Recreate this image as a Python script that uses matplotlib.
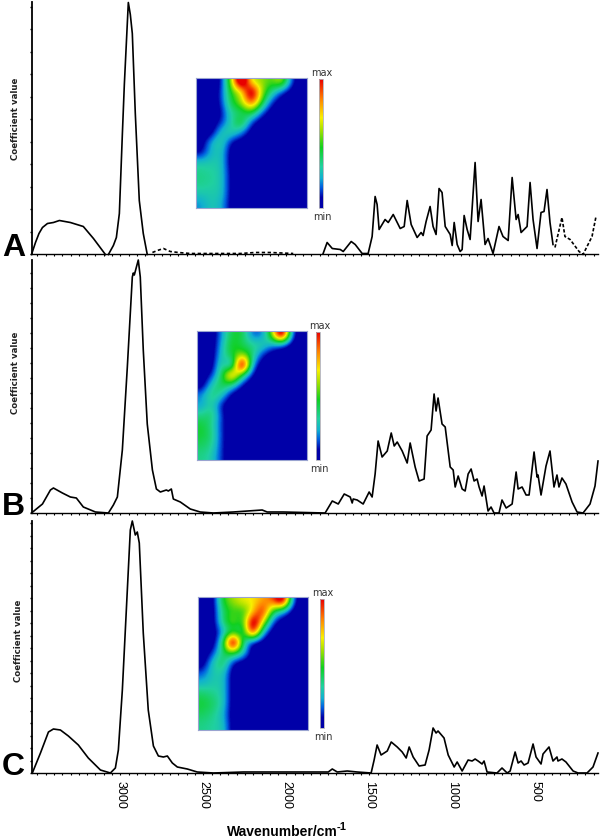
import numpy as np
import matplotlib
matplotlib.use("Agg")
import matplotlib.pyplot as plt
from matplotlib.colors import LinearSegmentedColormap
from matplotlib.ticker import MultipleLocator, NullLocator

W, H = 600, 838

# Panel A, the curve comes in solid and dashed pieces
a_w1 = [3535, 3511, 3490, 3469, 3439, 3403, 3367, 3301, 3223, 3162, 3126, 3090]
a_h1 = [0, 12, 21, 27, 31, 32, 34, 32, 28, 16, 8, 0]
a_w2 = [3072, 3042, 3024, 3006, 2988, 2976, 2964, 2952, 2940, 2928, 2910, 2886, 2862, 2838]
a_h2 = [0, 9, 17, 41, 120, 170, 211, 252, 240, 221, 141, 54, 21, 0]
a_w3 = [2807, 2777, 2741, 2699, 2651, 2579, 2489, 2278, 2188, 2097, 1959]
a_h3 = [2, 4, 6, 3, 2, 1, 1, 1, 2, 2, 1]
a_w4 = [1779, 1755, 1724, 1676, 1658, 1610, 1586, 1544, 1508, 1484, 1466, 1454, 1442, 1406, 1387,
        1357, 1315, 1291, 1273, 1249, 1213, 1189, 1177, 1159, 1135, 1117, 1099, 1081, 1063, 1044,
        1014, 1002, 990, 972, 954, 942, 930, 912, 894, 864, 846, 828, 804, 786, 756, 720, 696, 665,
        641, 617, 605, 587, 551, 533, 515, 491, 467, 449, 431, 413, 395]
a_h4 = [1, 12, 6, 5, 3, 13, 10, 1, 1, 18, 58, 50, 25, 35, 32,
        40, 26, 28, 54, 30, 17, 22, 19, 33, 48, 28, 20, 66, 62, 28,
        20, 9, 32, 10, 3, 5, 39, 25, 15, 92, 33, 55, 10, 16, 1, 28, 18, 14,
        77, 35, 40, 22, 28, 72, 35, 6, 42, 43, 65, 32, 10]
a_w5 = [383, 341, 323, 292, 238, 214, 160, 136]
a_h5 = [7, 37, 18, 15, 3, 0, 18, 38]

# Panel B
b_w = [3535, 3469, 3421, 3403, 3349, 3301, 3265, 3223, 3150, 3072, 3042, 3018, 2988, 2958, 2928,
       2922, 2916, 2892, 2880, 2862, 2838, 2807, 2783, 2759, 2723, 2711, 2693, 2681, 2639, 2579,
       2519, 2440, 2320, 2146, 2116, 2019, 1767, 1724, 1688, 1652, 1616, 1604, 1598, 1574, 1538,
       1502, 1484, 1466, 1448, 1424, 1393, 1369, 1351, 1333, 1303, 1273, 1255, 1225, 1201, 1171,
       1153, 1129, 1111, 1099, 1087, 1063, 1044, 1014, 996, 984, 966, 942, 924, 906, 888, 870, 852,
       840, 822, 810, 786, 768, 750, 720, 702, 677, 641, 617, 605, 581, 557, 539, 509, 491, 485,
       467, 437, 413, 389, 371, 359, 341, 317, 280, 250, 214, 172, 142, 124]
b_h = [0, 9, 23, 25, 20, 16, 15, 6, 1, 0, 8, 16, 63, 146, 236,
       240, 238, 253, 236, 163, 89, 43, 24, 21, 23, 22, 24, 14, 11, 4,
       1, 0, 1, 3, 1, 1, 0, 12, 9, 19, 16, 10, 14, 13, 9,
       21, 16, 39, 72, 56, 62, 80, 67, 71, 62, 50, 70, 46, 32, 34,
       77, 83, 119, 102, 115, 89, 86, 46, 43, 26, 37, 24, 22, 39, 44, 32, 34,
       26, 17, 27, 2, 6, 0, 0, 13, 5, 9, 41, 24, 26, 18, 18, 61, 36, 38,
       18, 47, 62, 26, 38, 26, 35, 29, 11, 1, 0, 9, 27, 52]

# Panel C
c_w = [3530, 3481, 3433, 3403, 3361, 3313, 3253, 3193, 3120, 3060, 3030, 3012, 2988, 2958, 2940,
       2928, 2910, 2898, 2886, 2862, 2832, 2801, 2771, 2741, 2717, 2687, 2657, 2597, 2537, 2440,
       2260, 2037, 1748, 1724, 1694, 1634, 1574, 1490, 1472, 1454, 1430, 1393, 1369, 1333, 1303,
       1279, 1261, 1237, 1201, 1165, 1141, 1117, 1099, 1087, 1051, 1026, 990, 972, 942, 906, 882,
       864, 846, 822, 810, 792, 732, 702, 671, 653, 623, 605, 587, 569, 545, 515, 497, 467, 455,
       419, 395, 371, 365, 341, 317, 274, 244, 190, 154, 124]
c_h = [0, 20, 41, 44, 43, 37, 28, 15, 3, 0, 5, 23, 83, 183, 243,
       252, 238, 241, 230, 140, 63, 27, 17, 16, 17, 10, 6, 4, 1, 0,
       1, 1, 1, 4, 1, 2, 1, 0, 13, 28, 18, 22, 31, 26, 21,
       15, 26, 16, 7, 8, 23, 45, 40, 42, 35, 18, 6, 11, 2, 13, 12,
       14, 12, 9, 12, 1, 0, 5, 0, 2, 21, 10, 12, 8, 10, 29, 16, 9, 19,
       26, 12, 16, 12, 14, 11, 2, 0, 0, 6, 20]

# Inset maps, coarse readings on a 0-10 scale, hot spots read a bit high
map_a = [
    [0, 0, 0.5, 6, 14, 6, 6, 5, 7, 1, 0],
    [0, 0, 1, 5, 6, 13, 6, 3.5, 1, 0, 0],
    [0, 0, 1, 4.5, 6, 10, 5, 1, 0, 0, 0],
    [0, 0, 0.5, 3.5, 3.5, 5, 1.5, 0, 0, 0, 0],
    [0, 0, 1, 3, 5.5, 1, 0, 0, 0, 0, 0],
    [0, 0, 3, 3.5, 2, 0, 0, 0, 0, 0, 0],
    [0, 2.5, 3.5, 0.5, 0, 0, 0, 0, 0, 0, 0],
    [0.5, 2.5, 3, 0, 0, 0, 0, 0, 0, 0, 0],
    [3, 3, 3, 0, 0, 0, 0, 0, 0, 0, 0],
    [3.5, 3.3, 3, 0.3, 0, 0, 0, 0, 0, 0, 0],
    [3.5, 3.3, 3, 0.3, 0, 0, 0, 0, 0, 0, 0],
    [3, 3, 3, 0.3, 0, 0, 0, 0, 0, 0, 0],
    [2, 3, 2.5, 0.3, 0, 0, 0, 0, 0, 0, 0],
]
map_b = [
    [0, 0, 2, 4.5, 4.5, 1.5, 1.5, 5.5, 14, 1, 0],
    [0, 0, 2.5, 5, 4, 3.5, 3.5, 2, 1, 0, 0],
    [0, 0, 3, 4.5, 6, 4, 1, 0, 0, 0, 0],
    [0, 0, 4, 0.5, 15, 2, 0, 0, 0, 0, 0],
    [0, 1, 4, 10, 4, 0.5, 0, 0, 0, 0, 0],
    [0, 3, 4.5, 3.5, 0.5, 0, 0, 0, 0, 0, 0],
    [2, 4, 3, 0, 0, 0, 0, 0, 0, 0, 0],
    [2, 3.5, 0.5, 0, 0, 0, 0, 0, 0, 0, 0],
    [3.5, 4, 1, 0, 0, 0, 0, 0, 0, 0, 0],
    [4.5, 3.5, 1, 0, 0, 0, 0, 0, 0, 0, 0],
    [4.5, 3.8, 1, 0, 0, 0, 0, 0, 0, 0, 0],
    [4, 3.5, 1, 0, 0, 0, 0, 0, 0, 0, 0],
    [3.5, 3, 1, 0, 0, 0, 0, 0, 0, 0, 0],
]
map_c = [
    [0, 0, 5, 6, 7, 7, 8, 9, 13, 1, 0],
    [0, 0, 4, 5, 4.5, 7, 11, 4, 2, 0, 0],
    [0, 0, 4, 6, 4, 13, 7, 1, 0, 0, 0],
    [0, 0, 2, 4, 3, 12, 2, 0, 0, 0, 0],
    [0, 0, 3.5, 15, 3.5, 0, 0, 0, 0, 0, 0],
    [0, 1, 4, 5, 3, 0, 0, 0, 0, 0, 0],
    [0, 3, 4.5, 0.5, 0, 0, 0, 0, 0, 0, 0],
    [1.5, 3, 3, 0, 0, 0, 0, 0, 0, 0, 0],
    [2.5, 3, 3, 0, 0, 0, 0, 0, 0, 0, 0],
    [4, 3.5, 3, 0, 0, 0, 0, 0, 0, 0, 0],
    [4.5, 4, 3, 0, 0, 0, 0, 0, 0, 0, 0],
    [4, 3.5, 2.5, 0, 0, 0, 0, 0, 0, 0, 0],
    [3.5, 3.2, 3, 0, 0, 0, 0, 0, 0, 0, 0],
]

x_ticks = [3000, 2500, 2000, 1500, 1000, 500]

cmap = LinearSegmentedColormap.from_list("ftir", [
    (0.0, "#0000a8"), (0.08, "#0000a8"), (0.16, "#0060e0"), (0.23, "#10b0d0"), (0.32, "#20d0a0"),
    (0.47, "#10d020"), (0.6, "#a0e000"), (0.7, "#f8f000"), (0.85, "#ff8000"), (1.0, "#e80000"),
])


def px_axes(x0, y0, x1, y1):
    return fig.add_axes([x0 / W, 1 - y1 / H, (x1 - x0) / W, (y1 - y0) / H])


def draw_panel(top, base, tick_step, letter, letter_y, ylab_x, ylab_y, curves):
    ax = px_axes(31.5, top, 598, base)
    for w, h, style in curves:
        ax.plot(w, h, color="black", lw=1.2, ls=style, clip_on=False, solid_joinstyle="round")
    ax.set_xlim(3535, 124)
    ax.set_ylim(0, base - top)
    for side in ["top", "right"]:
        ax.spines[side].set_visible(False)
    ax.spines["left"].set_linewidth(1.3)
    ax.spines["bottom"].set_linewidth(1.0)
    ax.xaxis.set_major_locator(MultipleLocator(500))
    ax.xaxis.set_minor_locator(MultipleLocator(50))
    ax.yaxis.set_major_locator(MultipleLocator(tick_step))
    ax.yaxis.set_major_formatter(plt.NullFormatter())
    ax.tick_params(axis="y", length=1.5, width=1.0, pad=1)
    ax.tick_params(axis="x", which="minor", length=1.5, width=0.8)
    ax.tick_params(axis="x", which="major", length=1.5, width=0.8, labelbottom=False)
    ax.patch.set_alpha(0)
    fig.text(2 / W, 1 - letter_y / H, letter, fontsize=23, fontweight="bold",
             family="Liberation Sans", va="baseline")
    fig.text(ylab_x / W, 1 - ylab_y / H, "Coefficient value", rotation=90,
             fontsize=6.2, fontweight="bold", family="DejaVu Sans", color="#222222",
             ha="center", va="center")
    return ax


def draw_map(grid, x0, y0, x1, y1, bx0, by0, bx1, by1):
    ax = px_axes(x0, y0, x1, y1)
    im = ax.imshow(grid, cmap=cmap, vmin=0, vmax=10, aspect="auto", interpolation="bicubic")
    ax.set_xticks([])
    ax.set_yticks([])
    for s in ax.spines.values():
        s.set_color("#9aa4d0")
        s.set_linewidth(0.8)
    cax = px_axes(bx0, by0, bx1, by1)
    fig.colorbar(im, cax=cax, ticks=[])
    cax.yaxis.set_minor_locator(NullLocator())
    cax.spines["outline"].set_edgecolor("#b0b0b8")
    cax.spines["outline"].set_linewidth(0.6)
    xc = (bx0 + bx1) / 2 + 1
    fig.text(xc / W, 1 - (by0 - 6) / H, "max", fontsize=7, color="#333333", ha="center", va="center")
    fig.text(xc / W, 1 - (by1 + 9) / H, "min", fontsize=7, color="#333333", ha="center", va="center")


fig = plt.figure(figsize=(W / 100, H / 100), dpi=100)

draw_panel(2, 254.5, 22.5, "A", 256, 15.5, 119, [
    (a_w1, a_h1, "-"), (a_w2, a_h2, "-"), (a_w3, a_h3, (0, (2, 1.5))),
    (a_w4, a_h4, "-"), (a_w5, a_h5, (0, (2, 1.2))),
])
draw_panel(260, 513, 15, "B", 515, 15.5, 373, [(b_w, b_h, "-")])
ax_c = draw_panel(521, 773, 12.5, "C", 775, 19, 641, [(c_w, c_h, "-")])

ax_c.set_xticks(x_ticks)
ax_c.set_xticklabels([str(t) for t in x_ticks], rotation=270, fontsize=9,
                     family="Liberation Sans")
ax_c.tick_params(axis="x", which="major", labelbottom=True, pad=4)

draw_map(map_a, 196, 78, 306.5, 208, 319, 79, 323.5, 208)
draw_map(map_b, 197, 331, 307, 460, 316, 332, 320.5, 460)
draw_map(map_c, 198, 597, 308, 730, 320, 599, 324.5, 728)

fig.text(227 / W, 1 - 836 / H, "Wavenumber/cm", fontsize=10, fontweight="bold",
         family="Liberation Sans", ha="left", va="baseline")
fig.text(337 / W, 1 - 830 / H, "-1", fontsize=8, fontweight="bold",
         family="Liberation Sans", ha="left", va="baseline")

fig.savefig("out.png", dpi=100)
